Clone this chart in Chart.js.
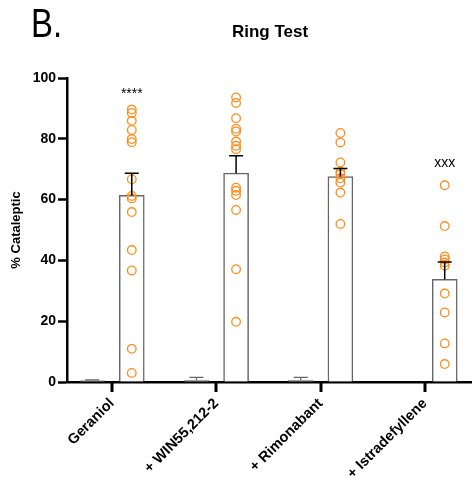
<!DOCTYPE html>
<html><head><meta charset="utf-8">
<script src="https://cdn.jsdelivr.net/npm/chart.js@4.4.0/dist/chart.umd.min.js"></script>
<style>html,body{margin:0;padding:0;background:#fff;}</style>
</head><body>
<canvas id="c" width="472" height="484"></canvas>
<script>
const categories = ['Geraniol', '+ WIN55,212-2', '+ Rimonabant', '+ Istradefyllene'];
const yTicks = [0, 20, 40, 60, 80, 100];
const vehicleMean = [0.5, 0.6, 0.6, null];
const vehicleSem = [0.2, 0.9, 0.9, null];
const treatMean = [61.4, 68.7, 67.6, 33.8];
const treatSem = [7.3, 5.7, 2.6, 5.7];
const geraniolPts = [89.6, 88.5, 85.9, 82.9, 79.9, 78.9, 66.7, 61.2, 60.4, 55.9, 43.4, 36.7, 10.9, 3.0];
const winPts = [93.6, 91.8, 86.8, 83.3, 82.4, 79.1, 77.7, 76.6, 63.9, 62.9, 61.5, 56.6, 37.1, 19.8];
const rimonabantPts = [81.9, 78.8, 72.2, 69.2, 68.4, 67.0, 65.6, 62.3, 52.0];
const istradefyllenePts = [64.7, 51.3, 41.3, 40.3, 39.3, 38.2, 29.1, 22.9, 12.7, 5.9];
const sigLabels = ['****', '', '', 'xxx'];
const sigY = [94.7, null, null, 72];

const OFF = 0.19;
const FONT = 'Liberation Sans, Arial, Helvetica, sans-serif';
const groups = [geraniolPts, winPts, rimonabantPts, istradefyllenePts];
const pts = [];
groups.forEach((g, i) => g.forEach(v => pts.push({x: i + OFF, y: v})));

const overlay = {
  id: 'overlay',
  afterDatasetsDraw(chart) {
    const {ctx, scales: {x, y}} = chart;
    ctx.save();
    ctx.lineCap = 'butt';
    treatMean.forEach((m, i) => {
      if (m === null) return;
      const px = x.getPixelForValue(i + OFF);
      const y0 = y.getPixelForValue(m), y1 = y.getPixelForValue(m + treatSem[i]);
      ctx.strokeStyle = '#000'; ctx.lineWidth = 1.5;
      ctx.beginPath(); ctx.moveTo(px, y0); ctx.lineTo(px, y1);
      ctx.moveTo(px - 7, y1); ctx.lineTo(px + 7, y1); ctx.stroke();
    });
    vehicleMean.forEach((m, i) => {
      if (m === null) return;
      const px = x.getPixelForValue(i - OFF);
      const y0 = y.getPixelForValue(m), y1 = y.getPixelForValue(m + vehicleSem[i]);
      ctx.strokeStyle = '#666'; ctx.lineWidth = 1.2;
      ctx.beginPath(); ctx.moveTo(px, y0); ctx.lineTo(px, y1);
      ctx.moveTo(px - 7, y1); ctx.lineTo(px + 7, y1); ctx.stroke();
    });
    ctx.fillStyle = '#000';
    ctx.textAlign = 'center'; ctx.textBaseline = 'middle';
    ctx.font = '14px ' + FONT;
    sigLabels.forEach((s, i) => {
      if (!s) return;
      ctx.fillText(s, x.getPixelForValue(i + OFF), y.getPixelForValue(sigY[i]));
    });
    ctx.restore();
  },
  afterDraw(chart) {
    const ctx = chart.ctx;
    const {x, y} = chart.scales;
    ctx.save();
    ctx.strokeStyle = '#000'; ctx.lineWidth = 3;
    const base = y.getPixelForValue(0);
    categories.forEach((c, i) => {
      const px = Math.round(x.getPixelForValue(i));
      ctx.beginPath(); ctx.moveTo(px, base); ctx.lineTo(px, base + 10); ctx.stroke();
    });
    ctx.restore();
    ctx.save();
    ctx.fillStyle = '#000';
    ctx.textBaseline = 'alphabetic';
    ctx.textAlign = 'left';
    ctx.translate(31, 37);
    ctx.scale(0.82, 1);
    ctx.font = '40px "Liberation Sans", sans-serif';
    ctx.fillText('B.', 0, 0);
    ctx.restore();
    ctx.save();
    ctx.fillStyle = '#000';
    ctx.textBaseline = 'alphabetic';
    ctx.textAlign = 'center';
    ctx.font = 'bold 17px ' + FONT;
    ctx.fillText('Ring Test', 270, 37);
    ctx.restore();
  }
};

new Chart(document.getElementById('c'), {
  type: 'bar',
  data: {
    datasets: [
      {
        type: 'scatter', label: 'Individual', data: pts, order: 0,
        pointStyle: 'circle', pointRadius: 4.3, pointBorderWidth: 1.3,
        pointBorderColor: '#FF8C1A', pointBackgroundColor: 'rgba(0,0,0,0)',
        showLine: false, clip: false
      },
      {
        label: 'Treatment', order: 1, grouped: false, barThickness: 25,
        data: treatMean.map((v, i) => ({x: i + OFF, y: v})),
        backgroundColor: '#fff', borderColor: '#666', borderWidth: 1.5
      },
      {
        label: 'Vehicle', order: 2, grouped: false, barThickness: 25,
        data: vehicleMean.map((v, i) => ({x: i - OFF, y: v})).filter(d => d.y !== null),
        backgroundColor: '#aaa', borderColor: '#999', borderWidth: 1
      }
    ]
  },
  options: {
    responsive: false, animation: false, devicePixelRatio: 1,
    layout: {autoPadding: false, padding: {left: 5, right: 1, top: 78, bottom: 0}},
    plugins: {legend: {display: false}, tooltip: {enabled: false}, title: {display: false}},
    scales: {
      x: {
        type: 'linear', min: -0.431, max: 3.442, offset: false,
        afterBuildTicks: s => { s.ticks = categories.map((c, i) => ({value: i})); },
        afterFit: s => { s.height = 102; s.paddingLeft = 0; s.paddingRight = 0; },
        ticks: {
          autoSkip: false, maxRotation: 45, minRotation: 45, padding: 4, color: '#000',
          font: {family: FONT, size: 14.5, weight: 'bold'},
          callback: v => categories[v]
        },
        grid: {display: false, offset: false, drawOnChartArea: false, drawTicks: true, tickLength: 9},
        border: {display: true, color: '#000', width: 2.5}
      },
      y: {
        min: 0, max: 100,
        afterBuildTicks: s => { s.ticks = yTicks.map(v => ({value: v})); },
        afterFit: s => { s.width = 62; },
        ticks: {padding: 2, color: '#000', font: {family: FONT, size: 14, weight: 'bold'}},
        grid: {display: true, offset: false, drawOnChartArea: false, drawTicks: true, tickLength: 9, tickWidth: 2.5, tickColor: '#000', color: '#000'},
        border: {display: true, color: '#000', width: 2.5},
        title: {display: true, text: '% Cataleptic', color: '#000', font: {family: FONT, size: 13, weight: 'bold'}, padding: {top: 4, bottom: 4}}
      }
    }
  },
  plugins: [overlay]
});
</script>
</body></html>
